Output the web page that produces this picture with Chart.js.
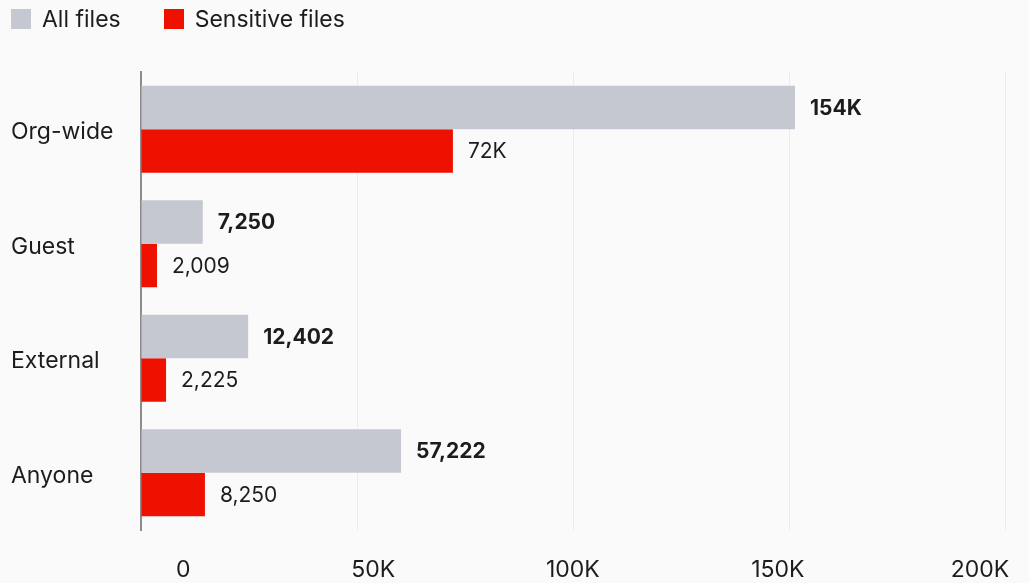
<!DOCTYPE html>
<html>
<head>
<meta charset="utf-8">
<title>Files by sharing type</title>
<script src="https://cdn.jsdelivr.net/npm/chart.js@4.4.1/dist/chart.umd.min.js"></script>
<style>
  html, body { margin: 0; padding: 0; background: #fafafa; }
  #wrap { position: relative; width: 1029px; height: 583px; }
  #legend { position: absolute; left: 11px; top: 9px; display: flex; font: 23px Inter, sans-serif; color: #1c1c1c; }
  #legend .item { display: flex; align-items: center; height: 20px; margin-right: 43px; }
  #legend .box { width: 20px; height: 20px; margin-right: 11px; }
</style>
</head>
<body>
<div id="wrap">
  <div id="legend"></div>
  <canvas id="myChart"></canvas>
</div>
<script>
// Chart values
const categories = ['Org-wide', 'Guest', 'External', 'Anyone'];
const allFiles = [151400, 14300, 24800, 60200];
const sensitiveFiles = [72200, 3700, 5800, 14800];

// Printed values next to the bars
const allFilesLabels = ['154K', '7,250', '12,402', '57,222'];
const sensitiveFilesLabels = ['72K', '2,009', '2,225', '8,250'];

// Axis tick values
const xTicks = [0, 50000, 100000, 150000, 200000];

const FONT = 'Inter, sans-serif';
const TEXT = '#1c1c1c';

// Draws the value text to the right of each bar
const barValueLabels = {
    id: 'barValueLabels',
    afterDatasetsDraw(chart) {
        const ctx = chart.ctx;
        chart.data.datasets.forEach((ds, i) => {
            const meta = chart.getDatasetMeta(i);
            ctx.save();
            ctx.font = (i === 0 ? 'bold ' : '') + '21px ' + FONT;
            ctx.fillStyle = TEXT;
            ctx.textBaseline = 'middle';
            meta.data.forEach((bar, j) => {
                ctx.fillText(ds.valueLabels[j], bar.x + 15, bar.y + 1);
            });
            ctx.restore();
        });
    }
};

// Builds the legend as html above the canvas
const htmlLegend = {
    id: 'htmlLegend',
    afterUpdate(chart) {
        const box = document.getElementById('legend');
        box.innerHTML = '';
        chart.data.datasets.forEach(ds => {
            const item = document.createElement('div');
            item.className = 'item';
            const sw = document.createElement('span');
            sw.className = 'box';
            sw.style.background = ds.backgroundColor;
            item.appendChild(sw);
            item.appendChild(document.createTextNode(ds.label));
            box.appendChild(item);
        });
    }
};

const formatK = v => (v === 0 ? '0' : (v / 1000) + 'K');

const chart = new Chart(document.getElementById('myChart').getContext('2d'), {
    type: 'bar',
    data: {
        labels: categories,
        datasets: [{
            label: 'All files',
            data: allFiles,
            valueLabels: allFilesLabels,
            backgroundColor: '#c5c8d0',
            barPercentage: 1,
            categoryPercentage: 0.76
        }, {
            label: 'Sensitive files',
            data: sensitiveFiles,
            valueLabels: sensitiveFilesLabels,
            backgroundColor: '#ee1100',
            barPercentage: 1,
            categoryPercentage: 0.76
        }]
    },
    options: {
        indexAxis: 'y',
        responsive: true,
        maintainAspectRatio: false,
        animation: false,
        layout: { padding: { top: 72, left: 11, right: 24, bottom: 0 } },
        plugins: {
            legend: { display: false },
            tooltip: { enabled: false }
        },
        scales: {
            x: {
                type: 'linear',
                position: 'bottom',
                min: 0,
                max: 200000,
                ticks: { display: false, stepSize: 50000 },
                grid: { color: '#ececec', lineWidth: 1, drawTicks: false },
                border: { display: false }
            },
            // label axis: the printed tick text sits right-aligned, slightly off the gridlines
            x2: {
                type: 'linear',
                position: 'bottom',
                min: -12066,
                max: 198974,
                afterBuildTicks: scale => { scale.ticks = xTicks.map(v => ({ value: v })); },
                afterFit: scale => {
                    scale.paddingLeft = 0;
                    scale.paddingRight = 0;
                    scale.height = 53;
                },
                ticks: {
                    align: 'end',
                    padding: 26,
                    autoSkip: false,
                    maxRotation: 0,
                    color: TEXT,
                    font: { family: FONT, size: 23 },
                    callback: v => formatK(v)
                },
                grid: { display: false, drawTicks: false },
                border: { display: false }
            },
            y: {
                afterFit: scale => { scale.width = 130; },
                ticks: {
                    crossAlign: 'far',
                    labelOffset: 3,
                    color: TEXT,
                    font: { family: FONT, size: 23 }
                },
                grid: { display: false, drawTicks: false },
                border: { display: true, color: '#8c8c8c', width: 2 }
            }
        }
    },
    plugins: [barValueLabels, htmlLegend]
});
</script>
</body>
</html>
